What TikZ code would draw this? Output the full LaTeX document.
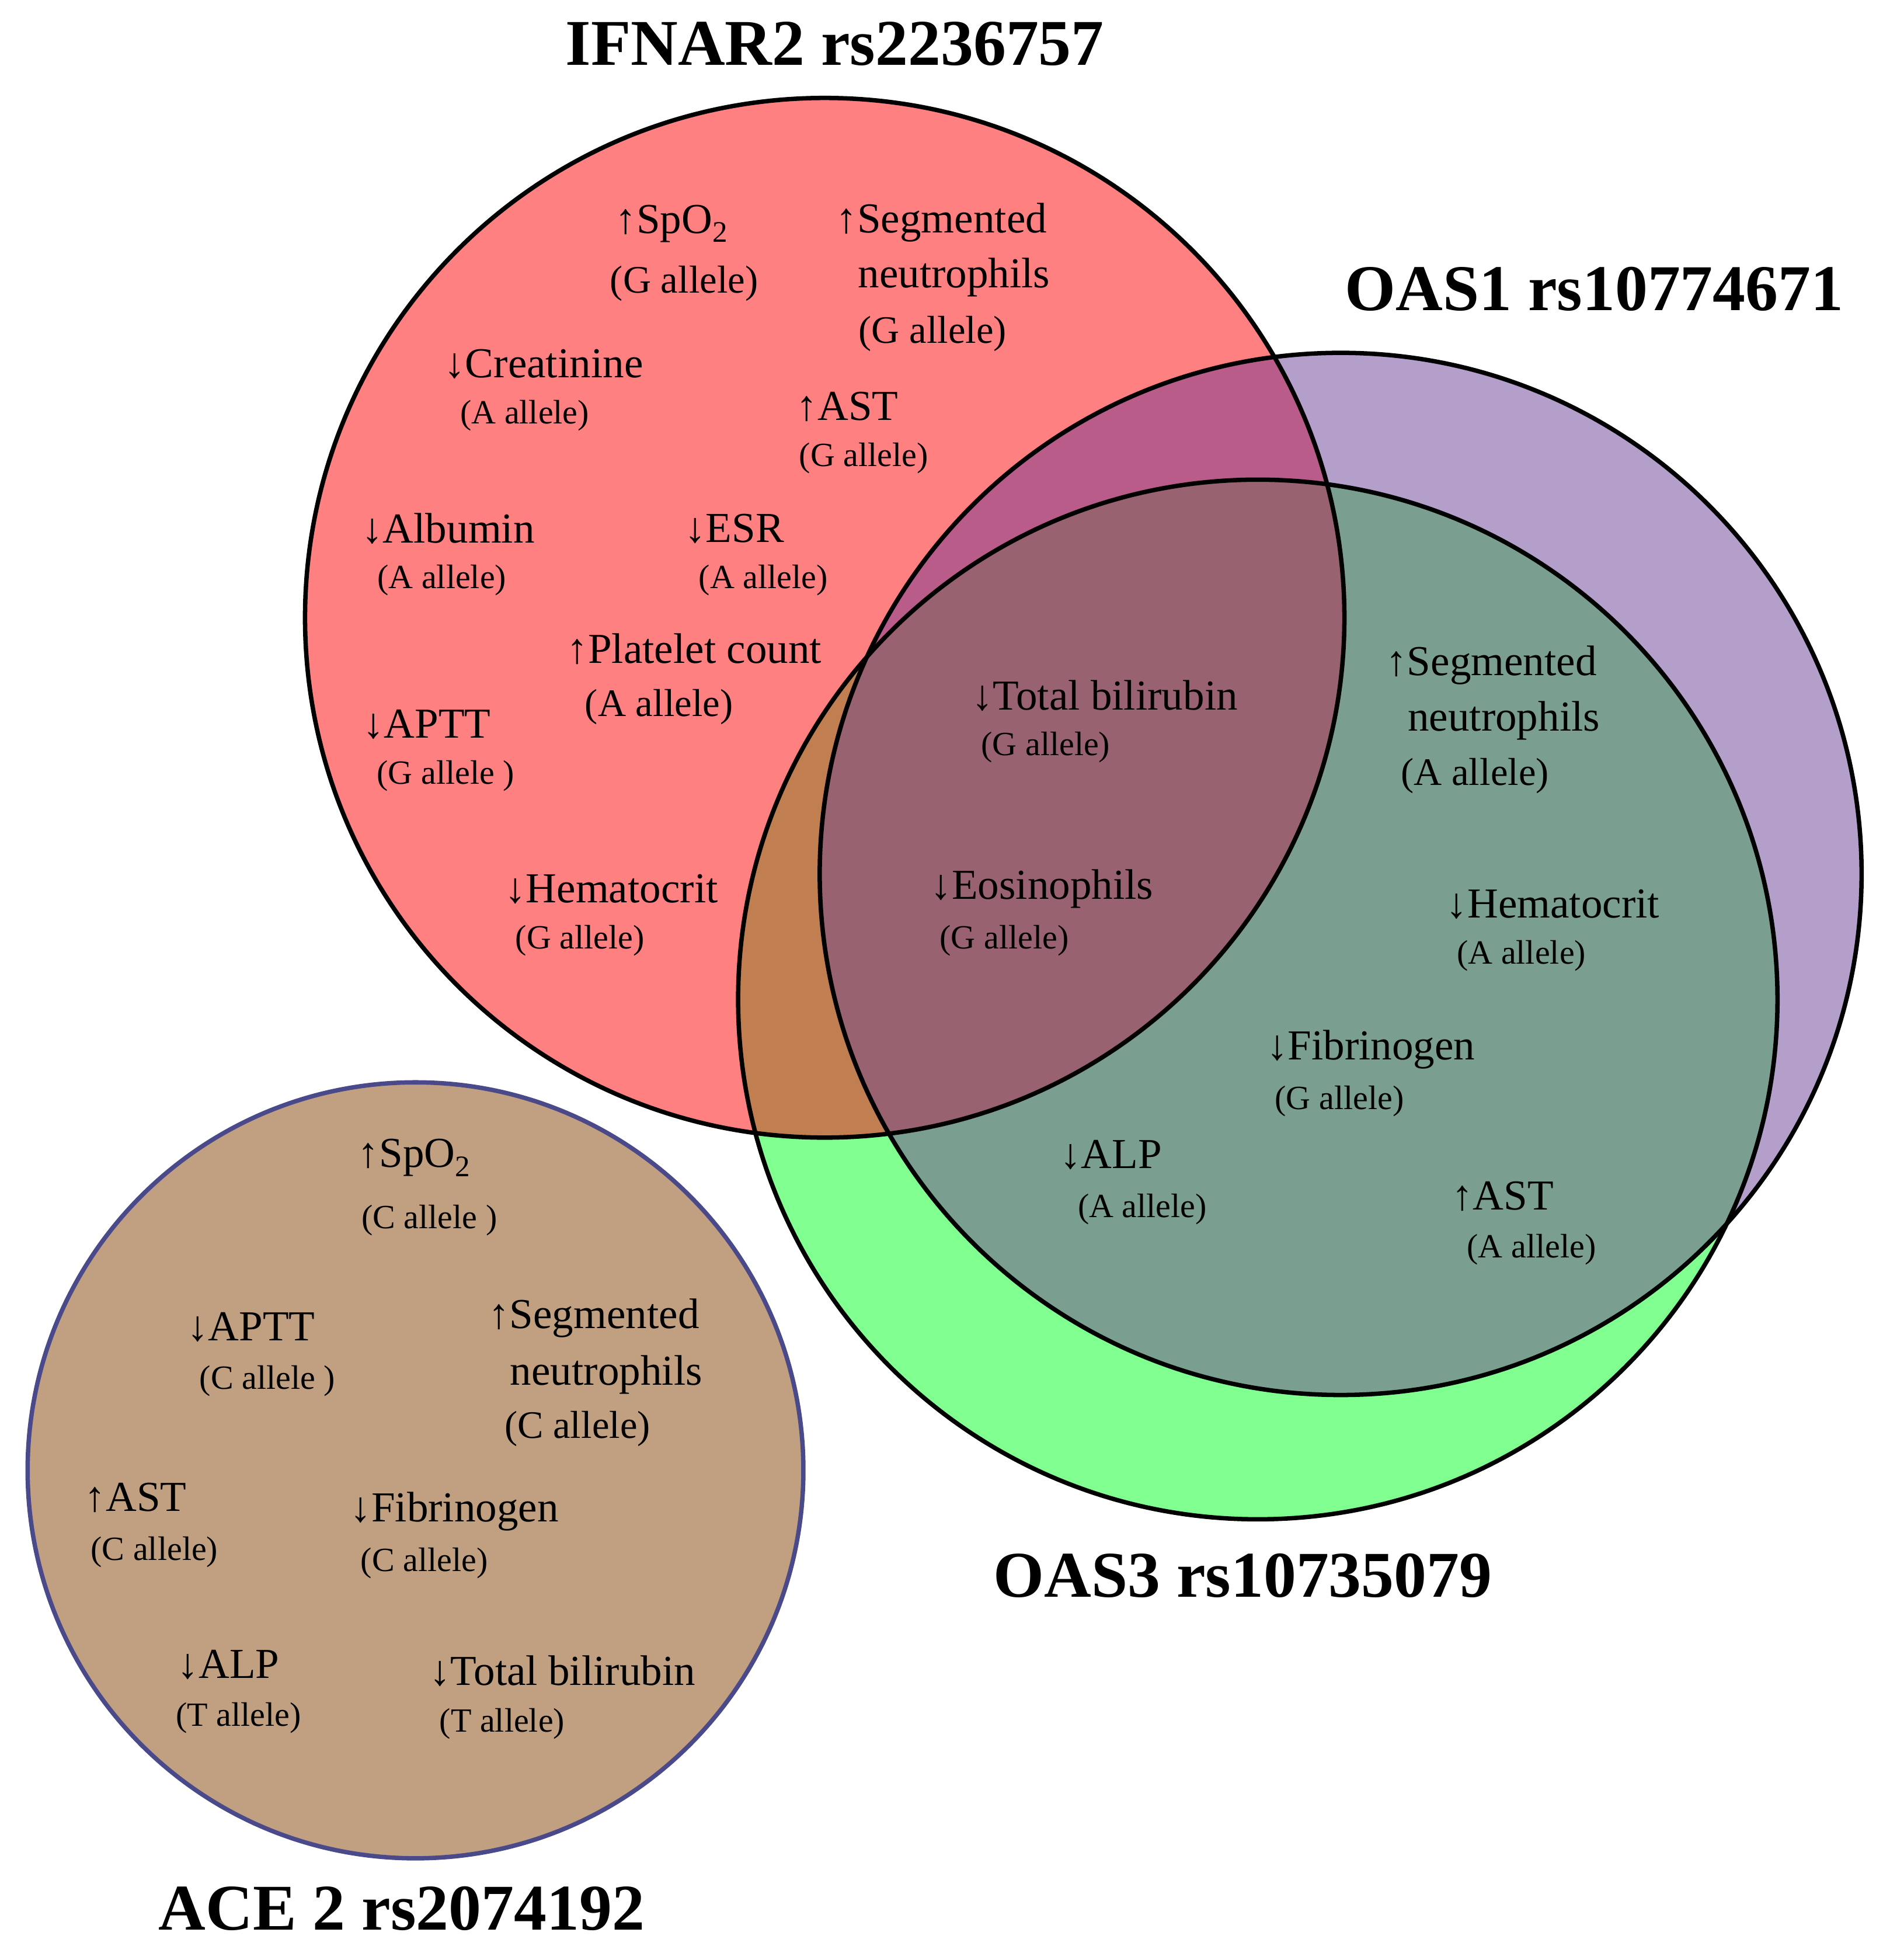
\documentclass[tikz,border=0pt]{standalone}
\usepackage{fontspec}
\setmainfont{Liberation Serif}
\begin{document}
\begin{tikzpicture}[x=1pt,y=-1pt,
 m/.style={font=\fontsize{34}{38}\selectfont,inner sep=0},
 a/.style={font=\fontsize{27}{30}\selectfont,inner sep=0},
 b/.style={font=\fontsize{31}{34}\selectfont,inner sep=0},
 t/.style={font=\fontsize{52}{56}\selectfont\bfseries,inner sep=0}]
\useasboundingbox (0,0) rectangle (1500,1561);
\def\red{(657,492) circle (414)}
\def\pur{(1068,696) circle (415)}
\def\gre{(1002,796) circle (414)}
\fill[fill={rgb,255:red,255;green,128;blue,128}] \red;
\fill[fill={rgb,255:red,180;green,159;blue,203}] \pur;
\fill[fill={rgb,255:red,128;green,255;blue,144}] \gre;
\begin{scope}\clip\red;\fill[fill={rgb,255:red,193;green,127;blue,81}] \gre;\end{scope}
\begin{scope}\clip\red;\fill[fill={rgb,255:red,185;green,92;blue,138}] \pur;\end{scope}
\begin{scope}\clip\gre;\fill[fill={rgb,255:red,122;green,159;blue,144}] \pur;\end{scope}
\begin{scope}\clip\gre;\clip\pur;\fill[fill={rgb,255:red,152;green,98;blue,112}] \red;\end{scope}
\draw[line width=3.5pt,black] \red;
\draw[line width=3.5pt,black] \gre;
\draw[line width=3.5pt,black] \pur;
\draw[line width=3.5pt,fill={rgb,255:red,192;green,160;blue,128},draw={rgb,255:red,74;green,74;blue,138}] (331,1171) circle (309);
\node[t] (t1) at (665,35) {IFNAR2 rs2236757};
\node[t] (t2) at (1270,230) {OAS1 rs10774671};
\node[t] (t3) at (990,1255) {OAS3 rs10735079};
\node[t] (t4) at (320,1520) {ACE 2 rs2074192};
% red
\node[m] (r1) at (535,178) {↑SpO\textsubscript{2}}; \node[b] (r1a) at (545,226) {(G allele)};
\node[m] (r2) at (750,177) {↑Segmented}; \node[m] (r2b) at (760,221) {neutrophils}; \node[b] (r2a) at (743,266) {(G allele)};
\node[m] (r3) at (433,290) {↓Creatinine}; \node[a] (r3a) at (418,331) {(A allele)};
\node[m] (r4) at (675,324) {↑AST}; \node[a] (r4a) at (688,365) {(G allele)};
\node[m] (r5) at (357,421) {↓Albumin}; \node[a] (r5a) at (352,462) {(A allele)};
\node[m] (r6) at (585,421) {↓ESR}; \node[a] (r6a) at (608,462) {(A allele)};
\node[m] (r7) at (553,517) {↑Platelet count}; \node[b] (r7a) at (525,563) {(A allele)};
\node[m] (r8) at (340,577) {↓APTT}; \node[a] (r8a) at (355,618) {(G allele )};
\node[m] (r9) at (487,708) {↓Hematocrit}; \node[a] (r9a) at (462,749) {(G allele)};
% center
\node[m] (c1) at (880,554) {↓Total bilirubin}; \node[a] (c1a) at (833,595) {(G allele)};
\node[m] (c2) at (830,708) {↓Eosinophils}; \node[a] (c2a) at (800,749) {(G allele)};
% green
\node[m] (g1) at (1188,530) {↑Segmented}; \node[m] (g1b) at (1198,574) {neutrophils}; \node[b] (g1a) at (1175,618) {(A allele)};
\node[m] (g2) at (1237,720) {↓Hematocrit}; \node[a] (g2a) at (1212,761) {(A allele)};
\node[m] (g3) at (1092,836) {↓Fibrinogen}; \node[a] (g3a) at (1067,877) {(G allele)};
\node[m] (g4) at (885,920) {↓ALP}; \node[a] (g4a) at (910,963) {(A allele)};
\node[m] (g5) at (1197,953) {↑AST}; \node[a] (g5a) at (1220,995) {(A allele)};
% ace
\node[m] (e1) at (330,922) {↑SpO\textsubscript{2}}; \node[a] (e1a) at (342,972) {(C allele )};
\node[m] (e2) at (200,1057) {↓APTT}; \node[a] (e2a) at (213,1100) {(C allele )};
\node[m] (e3) at (473,1050) {↑Segmented}; \node[m] (e3b) at (483,1095) {neutrophils}; \node[b] (e3a) at (460,1138) {(C allele)};
\node[m] (e4) at (108,1193) {↑AST}; \node[a] (e4a) at (123,1236) {(C allele)};
\node[m] (e5) at (362,1204) {↓Fibrinogen}; \node[a] (e5a) at (338,1245) {(C allele)};
\node[m] (e6) at (182,1326) {↓ALP}; \node[a] (e6a) at (190,1368) {(T allele)};
\node[m] (e7) at (448,1331) {↓Total bilirubin}; \node[a] (e7a) at (400,1373) {(T allele)};
\end{tikzpicture}
\end{document}
